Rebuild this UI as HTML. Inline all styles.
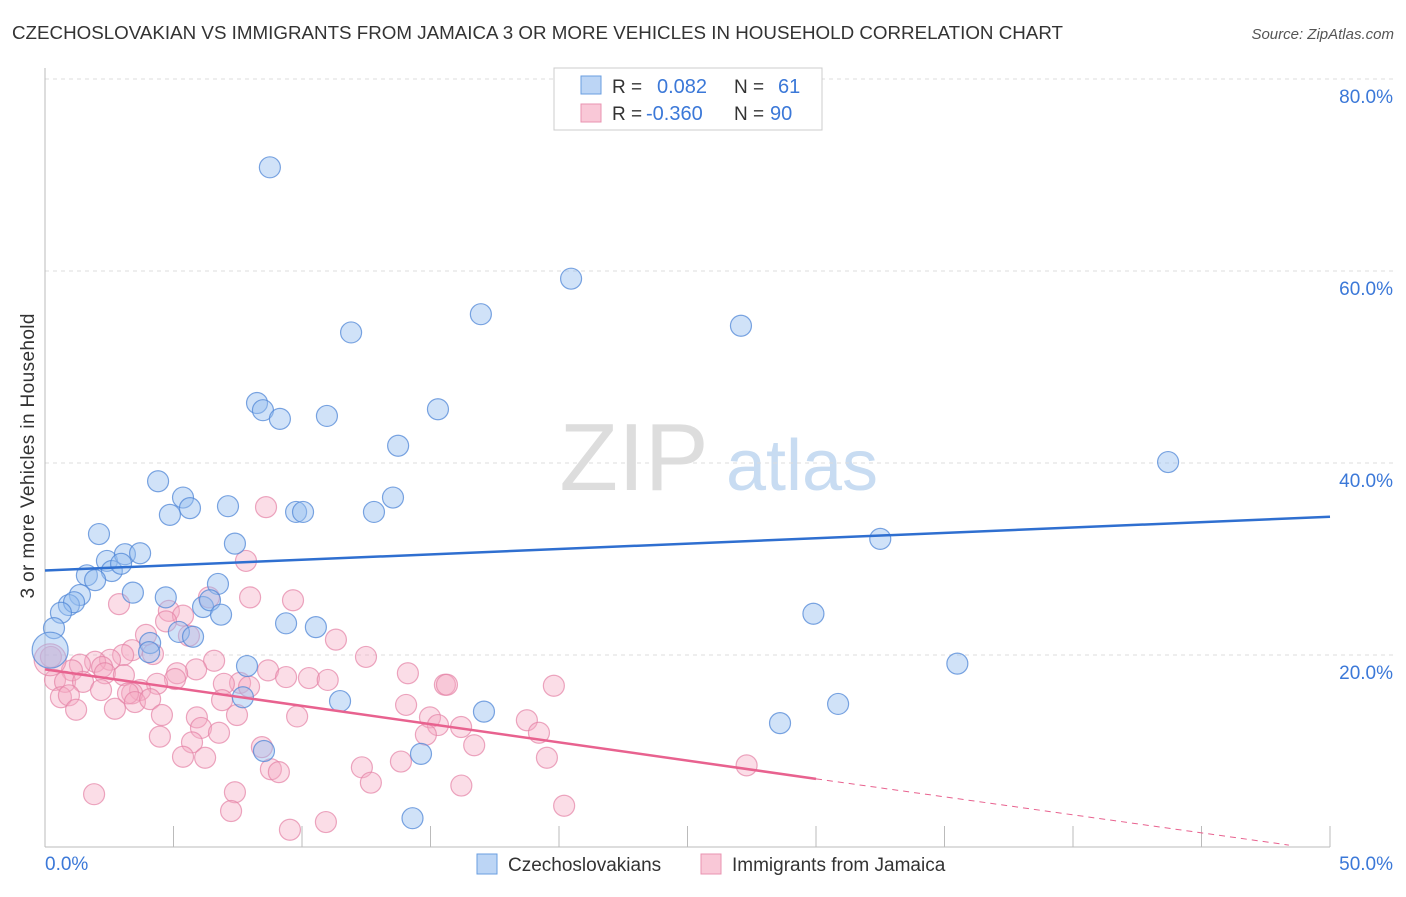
<!DOCTYPE html>
<html><head><meta charset="utf-8"><style>
body{margin:0;background:#fff;font-family:"Liberation Sans",sans-serif}
svg text{font-family:"Liberation Sans",sans-serif}
</style></head><body>
<svg id="chart" width="1406" height="892" viewBox="0 0 1406 892" xmlns="http://www.w3.org/2000/svg">
<text x="12" y="39" font-size="18" fill="#333" textLength="1051" lengthAdjust="spacingAndGlyphs">CZECHOSLOVAKIAN VS IMMIGRANTS FROM JAMAICA 3 OR MORE VEHICLES IN HOUSEHOLD CORRELATION CHART</text>
<text x="1394" y="39" font-size="15" fill="#555" font-style="italic" text-anchor="end">Source: ZipAtlas.com</text>
<g>
<text x="634" y="490" font-size="96" fill="#ddd" font-family="Liberation Serif" text-anchor="middle">ZIP</text>
<text x="802" y="490" font-size="72" fill="#c8dcf2" text-anchor="middle">atlas</text>
</g>
<g id="grid"></g>
<g id="pts"></g>
<g id="lines"></g>
<text transform="translate(34,456) rotate(-90)" font-size="19" fill="#333" text-anchor="middle" textLength="285">3 or more Vehicles in Household</text>
<g>
<rect x="554" y="68" width="268" height="62" fill="#fff" stroke="#ccc"/>
<rect x="581" y="76" width="20" height="18" fill="#bcd5f5" stroke="#6a9ee0"/>
<rect x="581" y="104" width="20" height="18" fill="#f9c8d7" stroke="#e993b0"/>
<text x="612" y="93" font-size="19" fill="#333">R =</text>
<text x="657" y="93" font-size="20" fill="#3b78d8">0.082</text>
<text x="734" y="93" font-size="19" fill="#333">N =</text>
<text x="778" y="93" font-size="20" fill="#3b78d8">61</text>
<text x="612" y="120" font-size="19" fill="#333">R =</text>
<text x="646" y="120" font-size="20" fill="#3b78d8">-0.360</text>
<text x="734" y="120" font-size="19" fill="#333">N =</text>
<text x="770" y="120" font-size="20" fill="#3b78d8">90</text>
</g>
<g>
<rect x="477" y="854" width="20" height="20" fill="#bcd5f5" stroke="#6a9ee0"/>
<text x="508" y="871" font-size="19" fill="#333">Czechoslovakians</text>
<rect x="701" y="854" width="20" height="20" fill="#f9c8d7" stroke="#e993b0"/>
<text x="732" y="871" font-size="19" fill="#333">Immigrants from Jamaica</text>
</g>
</svg>
<script>
const yTicks=[20,40,60,80];
const xTickLabels=["0.0%","50.0%"];
const blueX=[8.75,20.47,16.96,11.91,27.08,8.25,8.48,9.14,10.97,15.29,13.74,43.7,4.4,5.37,5.64,4.86,7.12,9.77,10.04,12.8,13.54,2.1,7.39,32.5,2.41,3.11,3.70,2.6,2.96,1.63,1.95,6.73,3.42,1.36,4.7,0.93,1.13,6.15,6.42,0.62,6.85,29.9,0.35,9.38,10.54,5.21,5.76,4.09,4.05,7.86,35.5,7.7,11.48,30.86,17.08,28.6,8.52,14.63,14.3,0.2];
const blueY=[70.8,59.2,55.5,53.6,54.3,46.25,45.5,44.6,44.9,45.6,41.8,40.1,38.1,36.4,35.3,34.6,35.5,34.9,34.9,34.9,36.4,32.6,31.6,32.1,29.8,30.5,30.6,28.75,29.5,28.3,27.8,27.4,26.5,26.25,26.0,25.2,25.5,25.0,25.7,24.4,24.2,24.3,22.8,23.3,22.9,22.4,21.9,21.25,20.3,18.85,19.1,15.6,15.2,14.9,14.1,12.9,10.0,9.7,3.0,20.5];
const pinkX=[8.6,7.82,2.88,7.98,9.65,6.38,4.82,5.37,4.71,3.93,5.6,11.32,4.2,12.49,3.39,3.04,6.58,5.88,8.68,14.12,2.53,1.95,1.36,1.05,2.22,2.33,3.07,5.14,5.06,9.38,10.27,11.0,15.56,7.59,7.94,6.96,4.36,3.7,3.39,0.39,0.78,1.48,2.18,0.62,0.93,1.21,2.72,3.23,3.5,4.09,6.89,7.47,4.55,5.91,6.07,6.77,4.47,5.72,5.37,6.23,8.44,8.79,9.1,9.81,14.05,14.98,15.29,14.82,13.85,12.33,12.68,1.91,7.39,7.24,9.53,10.93,0.23,15.64,16.19,16.7,16.2,18.75,19.22,19.53,19.8,20.2,27.3,0.2];
const pinkY=[35.4,29.8,25.3,26.0,25.7,26.0,24.6,24.1,23.5,22.1,22.0,21.6,20.1,19.8,20.5,20.0,19.4,18.5,18.4,18.1,19.5,19.3,19.0,18.4,18.75,18.1,17.9,18.1,17.5,17.7,17.6,17.4,16.9,17.1,16.7,17.0,17.0,16.35,16.0,17.4,17.2,17.2,16.35,15.6,15.8,14.3,14.4,16.0,15.1,15.4,15.3,13.75,13.75,13.5,12.4,11.9,11.5,10.9,9.4,9.3,10.4,8.1,7.8,13.6,14.8,13.5,12.7,11.7,8.9,8.3,6.7,5.5,5.7,3.75,1.8,2.6,19.8,16.9,12.5,10.6,6.4,13.2,11.9,9.3,16.8,4.3,8.5,19.5];
const blueTrend=[28.8,34.4];
const pinkTrend=[18.5,7.1,0.2];
const pinkTrendX=[0,30,48.4];
const NS="http://www.w3.org/2000/svg";
const X=v=>45+v*25.7, Y=v=>847-v*9.6;
function mk(t,a,p){const e=document.createElementNS(NS,t);for(const k in a)e.setAttribute(k,a[k]);p.appendChild(e);return e;}
const grid=document.getElementById('grid');
yTicks.forEach(v=>{
 const l=mk('line',{x1:45,x2:1395,y1:Y(v),y2:Y(v),stroke:'#ddd','stroke-dasharray':'4,4'},grid);
 
 
 const t=mk('text',{x:1393,y:Y(v)+24,'font-size':19,fill:'#3b78d8','text-anchor':'end'},grid);
 t.textContent=v.toFixed(1)+'%';
 
 
});
const ax=mk('line',{x1:45,x2:45,y1:68,y2:847,stroke:'#bbb'},grid);


const bx=mk('line',{x1:45,x2:1330,y1:847,y2:847,stroke:'#bbb'},grid);


for(let i=0;i<=10;i++){const tk=mk('line',{x1:X(i*5),x2:X(i*5),y1:826,y2:847,stroke:'#bbb'},grid);
 
 }
[[0,'start'],[50,'end']].forEach((d,i)=>{const t=mk('text',{x:i?1393:45,y:870,'font-size':19,fill:'#3b78d8','text-anchor':d[1]},grid);t.textContent=xTickLabels[i];
 
 });
const pts=document.getElementById('pts');
pinkX.forEach((v,i)=>{const c=mk('circle',{cx:X(v),cy:Y(pinkY[i]),r:i==pinkX.length-1?16:10.5,fill:'rgba(244,170,195,0.4)',stroke:'rgba(228,130,165,0.7)','stroke-width':1.2},pts);
 
 });
blueX.forEach((v,i)=>{const c=mk('circle',{cx:X(v),cy:Y(blueY[i]),r:i==blueX.length-1?18:10.5,fill:'rgba(150,190,240,0.45)',stroke:'rgba(80,135,215,0.75)','stroke-width':1.2},pts);
 
 });
const ln=document.getElementById('lines');
const b=mk('line',{x1:X(0),y1:Y(blueTrend[0]),x2:X(50),y2:Y(blueTrend[1]),stroke:'#2f6fd0','stroke-width':2.5},ln);


const p=mk('line',{x1:X(pinkTrendX[0]),y1:Y(pinkTrend[0]),x2:X(pinkTrendX[1]),y2:Y(pinkTrend[1]),stroke:'#e8628f','stroke-width':2.5},ln);


const pd=mk('line',{x1:X(pinkTrendX[1]),y1:Y(pinkTrend[1]),x2:X(pinkTrendX[2]),y2:Y(pinkTrend[2]),stroke:'#e8628f','stroke-width':1,'stroke-dasharray':'6,5'},ln);


</script>
</body></html>
